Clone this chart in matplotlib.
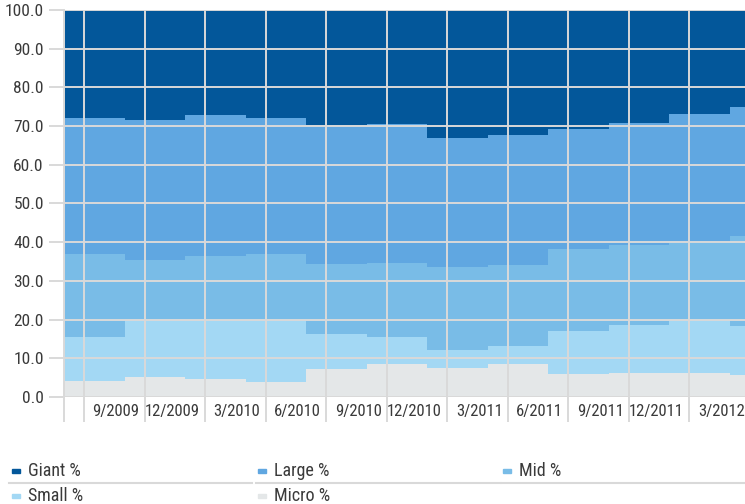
import numpy as np
import matplotlib
matplotlib.use("Agg")
import matplotlib.pyplot as plt
from matplotlib import font_manager
from matplotlib.patches import Rectangle
from matplotlib.lines import Line2D

# pick a narrow face if there is one, the reference uses a condensed sans
available = {f.name for f in font_manager.fontManager.ttflist}
narrow = [f for f in ['Roboto Condensed', 'Archivo Narrow', 'Liberation Sans Narrow',
                      'Barlow Condensed', 'Asap Condensed'] if f in available]
plt.rcParams['font.family'] = narrow[:1] + ['DejaVu Sans']

# quarterly holdings (each value holds for three monthly slots)
series_names = ["Giant %", "Large %", "Mid %", "Small %", "Micro %"]
micro = [4.1, 5.1, 4.6, 3.8, 7.2, 8.5, 7.6, 8.6, 5.9, 6.1, 6.1, 5.7]
small = [11.3, 15.0, 15.4, 16.1, 9.0, 7.0, 4.5, 4.5, 11.1, 12.4, 13.6, 12.6]
mid = [21.6, 15.2, 16.4, 17.0, 18.2, 19.2, 21.4, 21.0, 21.2, 20.9, 20.0, 23.3]
large = [35.0, 36.4, 36.4, 35.3, 35.8, 35.9, 33.5, 33.6, 31.0, 31.5, 33.3, 33.3]
giant = [28.0, 28.3, 27.2, 27.8, 29.8, 29.4, 33.0, 32.3, 30.8, 29.1, 27.0, 25.1]
tick_labels = ["9/2009", "12/2009", "3/2010", "6/2010", "9/2010", "12/2010",
               "3/2011", "6/2011", "9/2011", "12/2011", "3/2012"]

colors = ["#03579a", "#60a7e1", "#79bce7", "#a3d8f4", "#e4e7e8"]
grid_col = "#d9d9d9"
text_col = "#3a3a3a"

months_per_q = 3
xmax = 33.76

fig = plt.figure(figsize=(7.45, 5.04), dpi=100)
ax = fig.add_axes([64 / 745, 1 - 397 / 504, 1 - 64 / 745, (397 - 10) / 504])

n = len(giant)
x = np.append(np.arange(n) * months_per_q, xmax)
layers = [giant, large, mid, small, micro]
stack = np.cumsum(np.array(layers[::-1]), axis=0)[::-1]  # top of each layer
for top, col in zip(stack, colors):
    ax.fill_between(x, 0, np.append(top, top[-1]), step='post',
                    color=col, linewidth=0)

ax.set_xlim(0, xmax)
ax.set_ylim(0, 100)

# gridlines / long ticks
ax.set_yticks(np.arange(0, 101, 10))
ax.set_yticklabels([f"{v:.1f}" for v in np.arange(0, 101, 10)])
ax.set_xticks([0] + list(np.arange(1, 32, 3)))
ax.set_xticklabels([])
ax.set_xticks(np.arange(len(tick_labels)) * 3 + 3.74, minor=True)
ax.set_xticklabels(tick_labels, minor=True, ha='right')

ax.grid(True, color=grid_col, linewidth=1.4)
ax.set_axisbelow(False)
ax.tick_params(axis='y', length=11, width=1.4, color=grid_col,
               labelsize=12.5, labelcolor=text_col, pad=3.5)
ax.tick_params(axis='x', which='major', length=18, width=1.4, color=grid_col)
ax.tick_params(axis='x', which='minor', length=0, labelsize=12,
               labelcolor=text_col, pad=5)
for s in ['top', 'right', 'bottom']:
    ax.spines[s].set_visible(False)
ax.spines['left'].set_color(grid_col)
ax.spines['left'].set_linewidth(1.4)

# legend, laid out in a 3-column grid with separators
leg_cols = [12, 258, 503]
leg_rows = [471, 496]
for i, (name, col) in enumerate(zip(series_names, colors)):
    r, c = divmod(i, 3)
    px, py = leg_cols[c], leg_rows[r]
    fig.patches.append(Rectangle((px / 745, 1 - (py + 2) / 504), 8 / 745, 4 / 504,
                                 transform=fig.transFigure, color=col))
    fig.text((px + 16) / 745, 1 - py / 504, name, fontsize=13,
             color=text_col, va='center', ha='left')
for x0, x1 in [(9, 252), (256, 500), (502, 745)]:
    fig.add_artist(Line2D([x0 / 745, x1 / 745], [1 - 483 / 504] * 2,
                          color=grid_col, linewidth=1.5,
                          transform=fig.transFigure))

fig.savefig("out.png", dpi=100)
